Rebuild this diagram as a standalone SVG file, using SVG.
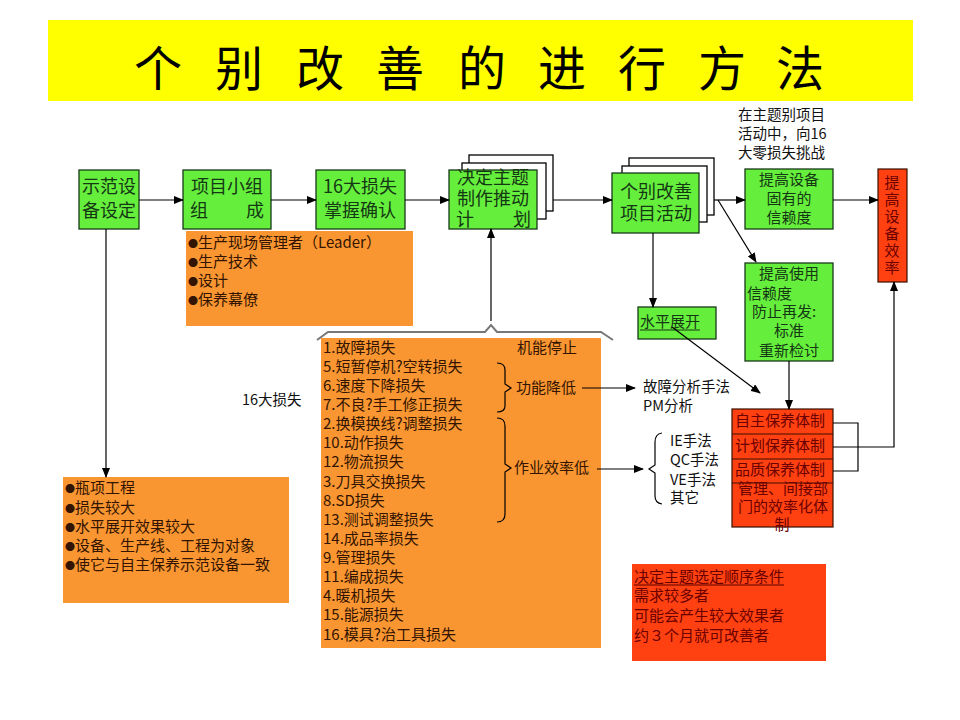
<svg xmlns="http://www.w3.org/2000/svg" width="960" height="720" viewBox="0 0 960 720">
<defs>
<marker id="ah" markerWidth="10" markerHeight="8" refX="9" refY="4" orient="auto" markerUnits="userSpaceOnUse">
<path d="M0,0 L10,4 L0,8 Z" fill="#000"/>
</marker>
<style>
text{font-family:"Noto Sans CJK SC","Liberation Sans",sans-serif;}
.g{fill:#66ee3c;stroke:#1a3a1a;stroke-width:1.3;}
.w{fill:#fff;stroke:#000;stroke-width:1.3;}
.o{fill:#fa9632;stroke:none;}
.r{fill:#ff4010;stroke:#3a1000;stroke-width:1.2;}
.gt{fill:#143814;font-size:18px;}
.gs{fill:#143814;font-size:15px;}
.ot{fill:#331400;font-size:15px;}
.rt{fill:#6b0000;font-size:15px;}
.bt{fill:#111;font-size:14.5px;}
.bu{font-size:10px;}
.c{text-anchor:middle;}
.ln{fill:none;stroke:#000;stroke-width:1.2;}
.arr{fill:none;stroke:#000;stroke-width:1.2;marker-end:url(#ah);}
</style>
</defs>
<rect width="960" height="720" fill="#fff"/>

<g id="title">
<rect x="48" y="20" width="865" height="81" fill="#ffff00"/>
<text x="158 239 320 400 482 562 642 722 800" y="86" font-size="48" fill="#000" text-anchor="middle">个别改善的进行方法</text>
</g>

<g id="n-shifan">
<rect class="g" x="79" y="170" width="60" height="59"/>
<text class="gt c" x="109" y="193" font-size="19">示范设</text>
<text class="gt c" x="109" y="217" font-size="19">备设定</text>
</g>

<g id="n-xiaozu">
<rect class="g" x="183" y="170" width="88" height="59"/>
<text class="gt c" x="227" y="193">项目小组</text>
<text class="gt" x="190" y="217">组</text>
<text class="gt" x="246" y="217">成</text>
</g>

<g id="n-16da">
<rect class="g" x="316" y="170" width="89" height="59"/>
<text class="gt c" x="360" y="193">16大损失</text>
<text class="gt c" x="360" y="217">掌握确认</text>
</g>

<g id="n-jueding">
<rect class="w" x="469" y="155" width="84" height="56"/>
<rect class="w" x="462" y="163" width="84" height="56"/>
<rect class="g" x="449" y="170" width="88" height="59"/>
<text class="gt c" x="493" y="184" font-size="16.5">决定主题</text>
<text class="gt c" x="493" y="205" font-size="16.5">制作推动</text>
<text class="gt" x="456" y="226" font-size="16.5">计</text>
<text class="gt" x="513" y="226" font-size="16.5">划</text>
</g>

<g id="n-gebie">
<rect class="w" x="629" y="158" width="85" height="57"/>
<rect class="w" x="622" y="166" width="85" height="56"/>
<rect class="g" x="612" y="173" width="87" height="60"/>
<text class="gt c" x="656" y="198" font-size="19">个别改善</text>
<text class="gt c" x="656" y="220" font-size="19">项目活动</text>
</g>

<g id="n-note">
<text class="bt" x="738" y="120">在主题别项目</text>
<text class="bt" x="738" y="139">活动中，向16</text>
<text class="bt" x="738" y="158">大零损失挑战</text>
</g>

<g id="n-guyou">
<rect class="g" x="745" y="169" width="88" height="60"/>
<text class="gs c" x="789" y="185">提高设备</text>
<text class="gs c" x="789" y="204">固有的</text>
<text class="gs c" x="789" y="223">信赖度</text>
</g>

<g id="n-xiaolv">
<rect class="r" x="878" y="169" width="29" height="113"/>
<text class="rt c" x="892" y="188">提</text>
<text class="rt c" x="892" y="205">高</text>
<text class="rt c" x="892" y="222">设</text>
<text class="rt c" x="892" y="239">备</text>
<text class="rt c" x="892" y="256">效</text>
<text class="rt c" x="892" y="273">率</text>
</g>

<g id="n-shiyong">
<rect class="g" x="745" y="263" width="88" height="98"/>
<text class="gs c" x="789" y="279">提高使用</text>
<text class="gs" x="747" y="299">信赖度</text>
<text class="gs" x="752" y="317">防止再发:</text>
<text class="gs c" x="789" y="336">标准</text>
<text class="gs c" x="789" y="356">重新检讨</text>
</g>

<g id="n-shuiping">
<rect class="g" x="638" y="307" width="78" height="32"/>
<text class="gs" x="640" y="327">水平展开</text>
<line x1="640" y1="330" x2="700" y2="330" stroke="#143814" stroke-width="1"/>
</g>

<g id="n-baoyang">
<rect class="r" x="732" y="409" width="101" height="118"/>
<line x1="732" y1="434" x2="833" y2="434" stroke="#3a1000" stroke-width="1"/>
<line x1="732" y1="459" x2="833" y2="459" stroke="#3a1000" stroke-width="1"/>
<line x1="732" y1="483" x2="833" y2="483" stroke="#3a1000" stroke-width="1"/>
<text class="rt" x="735" y="426">自主保养体制</text>
<text class="rt" x="735" y="451">计划保养体制</text>
<text class="rt" x="735" y="475">品质保养体制</text>
<text class="rt" x="738" y="494" font-size="14.5">管理、间接部</text>
<text class="rt" x="738" y="512" font-size="14.5">门的效率化体</text>
<text class="rt c" x="782" y="530" font-size="14.5">制</text>
</g>

<g id="n-members">
<rect class="o" x="186" y="231" width="227" height="95"/>
<text class="ot" x="188" y="248"><tspan class="bu">●</tspan>生产现场管理者（Leader）</text>
<text class="ot" x="188" y="267"><tspan class="bu">●</tspan>生产技术</text>
<text class="ot" x="188" y="286"><tspan class="bu">●</tspan>设计</text>
<text class="ot" x="188" y="305"><tspan class="bu">●</tspan>保养幕僚</text>
</g>

<g id="n-criteria">
<rect class="o" x="63" y="477" width="226" height="126"/>
<text class="ot" x="65" y="493"><tspan class="bu">●</tspan>瓶项工程</text>
<text class="ot" x="65" y="513"><tspan class="bu">●</tspan>损失较大</text>
<text class="ot" x="65" y="532"><tspan class="bu">●</tspan>水平展开效果较大</text>
<text class="ot" x="65" y="551"><tspan class="bu">●</tspan>设备、生产线、工程为对象</text>
<text class="ot" x="65" y="570"><tspan class="bu">●</tspan>使它与自主保养示范设备一致</text>
</g>

<g id="n-losses">
<text class="bt" x="242" y="405">16大损失</text>
<rect class="o" x="321" y="338" width="280" height="310"/>
<text class="ot" x="323" y="353">1.故障损失</text>
<text class="ot" x="323" y="372">5.短暂停机?空转损失</text>
<text class="ot" x="323" y="391">6.速度下降损失</text>
<text class="ot" x="323" y="410">7.不良?手工修正损失</text>
<text class="ot" x="323" y="429">2.换模换线?调整损失</text>
<text class="ot" x="323" y="448">10.动作损失</text>
<text class="ot" x="323" y="467">12.物流损失</text>
<text class="ot" x="323" y="487">3.刀具交换损失</text>
<text class="ot" x="323" y="506">8.SD损失</text>
<text class="ot" x="323" y="525">13.测试调整损失</text>
<text class="ot" x="323" y="544">14.成品率损失</text>
<text class="ot" x="323" y="563">9.管理损失</text>
<text class="ot" x="323" y="582">11.编成损失</text>
<text class="ot" x="323" y="601">4.暖机损失</text>
<text class="ot" x="323" y="620">15.能源损失</text>
<text class="ot" x="323" y="640">16.模具?治工具损失</text>
<text class="ot" x="517" y="353">机能停止</text>
<text class="ot" x="516" y="393">功能降低</text>
<text class="ot" x="514" y="473">作业效率低</text>
<path class="ln" d="M497,363 Q505,363 505,370 L505,384 L511,388 L505,392 L505,406 Q505,412 497,412" stroke="#331400"/>
<path class="ln" d="M497,418 Q505,418 505,426 L505,464 L511,468 L505,472 L505,514 Q505,522 497,522" stroke="#331400"/>
</g>

<g id="n-methods">
<text class="bt" x="643" y="392">故障分析手法</text>
<text class="bt" x="643" y="411">PM分析</text>
<text class="bt" x="670" y="446">IE手法</text>
<text class="bt" x="670" y="465">QC手法</text>
<text class="bt" x="670" y="485">VE手法</text>
<text class="bt" x="670" y="503">其它</text>
<path class="ln" d="M662,433 Q655,434 655,442 L655,465 L649,469 L655,473 L655,496 Q655,503 662,504"/>
</g>

<g id="n-order">
<rect x="632" y="564" width="194" height="97" fill="#ff4010"/>
<text class="rt" x="634" y="582" fill="#5a0000">决定主题选定顺序条件</text>
<line x1="634" y1="585" x2="784" y2="585" stroke="#5a0000" stroke-width="1"/>
<text class="rt" x="634" y="601">需求较多者</text>
<text class="rt" x="634" y="621">可能会产生较大效果者</text>
<text class="rt" x="634" y="641">约３个月就可改善者</text>
</g>

<g id="connectors">
<line class="arr" x1="139" y1="200" x2="183" y2="200"/>
<line class="arr" x1="271" y1="200" x2="316" y2="200"/>
<line class="arr" x1="405" y1="200" x2="449" y2="200"/>
<line class="arr" x1="553" y1="200" x2="612" y2="200"/>
<line class="arr" x1="714" y1="200" x2="745" y2="200"/>
<line class="arr" x1="833" y1="200" x2="878" y2="200"/>
<line class="arr" x1="718" y1="200" x2="756" y2="262"/>
<line class="arr" x1="653" y1="233" x2="653" y2="307"/>
<line class="arr" x1="106" y1="229" x2="106" y2="477"/>
<line class="arr" x1="491" y1="321" x2="491" y2="229"/>
<path d="M317,340 L328,332 L485,332 L491,325 L497,332 L601,332 L613,340" fill="none" stroke="#777" stroke-width="2"/>
<line class="arr" x1="582" y1="388" x2="635" y2="388"/>
<line class="arr" x1="597" y1="469" x2="643" y2="469"/>
<line class="arr" x1="672" y1="327" x2="760" y2="393"/>
<line class="arr" x1="789" y1="361" x2="789" y2="409"/>
<path class="ln" d="M833,423 L858,423 L858,471 L833,471"/>
<path class="arr" d="M833,447 L894,447 L894,282"/>
</g>
</svg>
